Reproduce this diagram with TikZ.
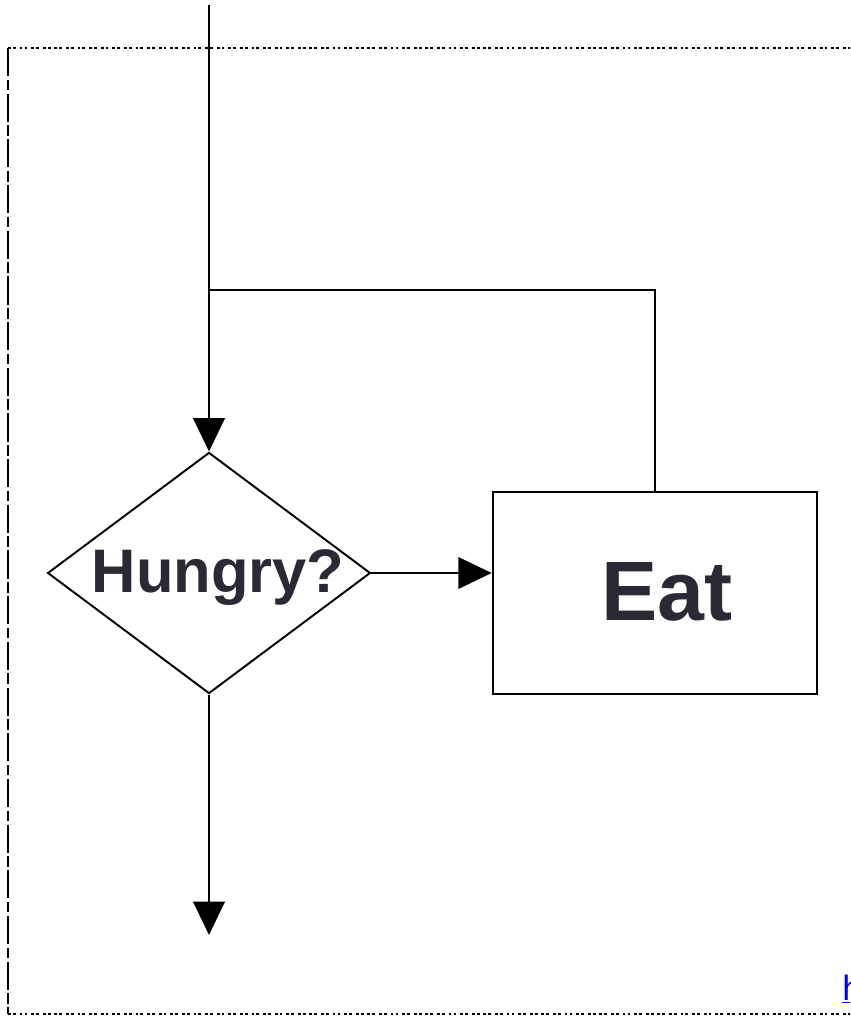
\documentclass[tikz,border=0pt]{standalone}
\usepackage{fontspec}
\setmainfont{Liberation Sans}
\usetikzlibrary{arrows.meta,shapes.geometric}
\definecolor{ink}{HTML}{2A2A35}
\definecolor{linkblue}{HTML}{0000EE}
\begin{document}
\begin{tikzpicture}[x=0.02cm,y=-0.02cm,
  flow/.style={line width=1.1pt,black},
  arr/.style={flow,-{Triangle[width=18pt,length=19pt]}},
  frame/.style={line width=1.3pt,black},
  label/.style={text=ink,inner sep=0pt}]
  \useasboundingbox (0,0) rectangle (850,1017);
  \clip (0,0) rectangle (850,1017);

  % surrounding frame
  \draw[frame,dash pattern=on 1.6pt off 1.2pt on 1.6pt off 2.2pt] (8,48) -- (860,48);
  \draw[frame,dash pattern=on 16pt off 2pt on 6pt off 2pt] (8,48) -- (8,1014);
  \draw[frame,dash pattern=on 1.6pt off 1.2pt on 1.6pt off 2.2pt] (8,1014) -- (860,1014);

  % shapes
  \node[diamond,draw,line width=1.1pt,minimum width=324*0.567pt,
        minimum height=242*0.567pt,inner sep=0pt] (hungry) at (209,573) {};
  \node[label,font=\bfseries\fontsize{35}{38}\selectfont] (hungrytext) at (218,578) {Hungry?};
  \node[draw,line width=1.1pt,minimum width=326*0.567pt,minimum height=202*0.567pt,
        inner sep=0pt] (eat) at (655,593) {};
  \node[label,font=\bfseries\fontsize{48}{52}\selectfont] (eattext) at (667,592) {Eat};

  % connectors
  \coordinate (top) at (209,5);
  \coordinate (join) at (209,290);
  \coordinate (out) at (209,935);
  \draw[arr] (top) -- (hungry.north);
  \draw[flow] (eat.north) |- (join);
  \draw[arr] (hungry.east) -- (hungry.east -| eat.west);
  \draw[arr] (hungry.south) -- (out);

  % link text at the lower right
  \node[anchor=base west,inner sep=0pt,text=linkblue,font=\fontsize{20}{24}\selectfont]
    (link) at (842,1000) {\underline{h}};
\end{tikzpicture}
\end{document}
